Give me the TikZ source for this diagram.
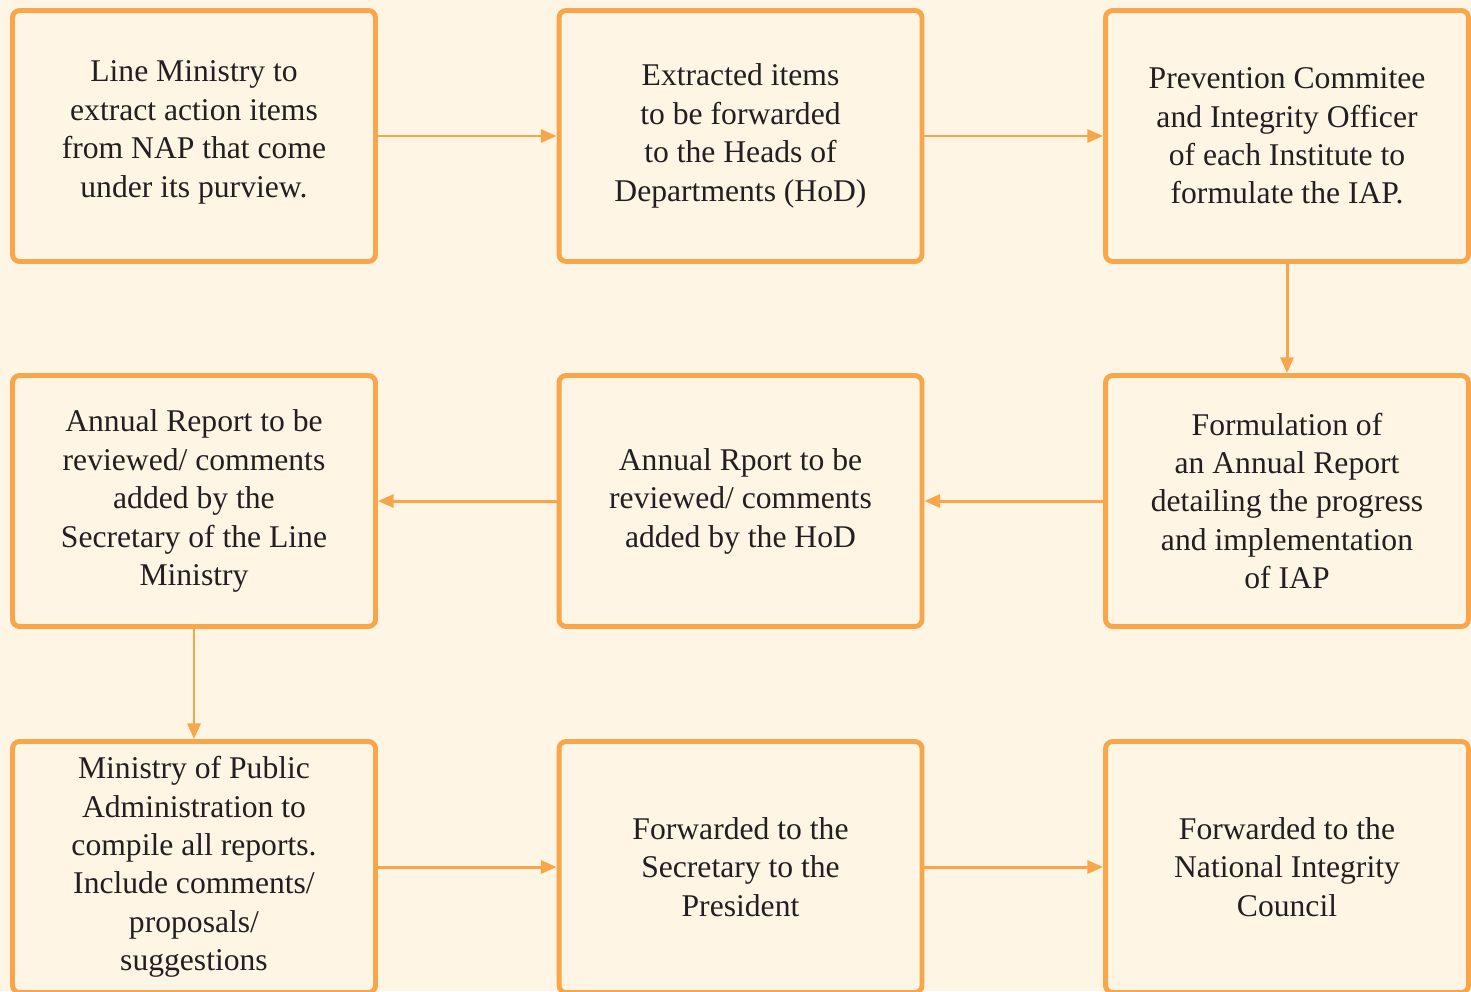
\documentclass[tikz,border=0pt]{standalone}
\usepackage{fontspec}
\setmainfont{Liberation Serif}
\usetikzlibrary{arrows.meta}

\definecolor{paper}{HTML}{FEF5E4}
\definecolor{flow}{HTML}{F9A64A}
\definecolor{ink}{HTML}{231F20}

\begin{document}
\begin{tikzpicture}[x=0.02cm, y=-0.02cm,
    stage/.style={draw=flow, line width=2.8pt, rounded corners=4pt, fill=paper,
        minimum width=7.26cm, minimum height=5.02cm, inner sep=0pt,
        align=center, text=ink, font=\fontsize{18}{21.9}\selectfont},
    link/.style={draw=flow, line width=1.7pt, -{Triangle[length=9pt,width=7.5pt]}}]

    \fill[paper] (0,0) rectangle (1471,991);
    \useasboundingbox (0,0) rectangle (1471,991);
    \clip (0,0) rectangle (1471,991);

    \coordinate (A) at (194,136);
    \coordinate (B) at (740.5,136);
    \coordinate (C) at (1287,136);
    \coordinate (D) at (194,501);
    \coordinate (E) at (740.5,501);
    \coordinate (F) at (1287,501);
    \coordinate (G) at (194,867);
    \coordinate (H) at (740.5,867);
    \coordinate (I) at (1287,867);

    \node[stage] (extract) at (A) {Line Ministry to\\extract action items\\from NAP that come\\under its purview.\\[-0.49cm]};
    \node[stage] (forward) at (B) {Extracted items\\to be forwarded\\to the Heads of\\Departments (HoD)};
    \node[stage] (formulate) at (C) {Prevention Commitee\\and Integrity Officer\\of  each Institute to\\formulate the IAP.};
    \node[stage] (secretary) at (D) {Annual Report to be\\reviewed/ comments\\added by the\\Secretary of  the Line\\Ministry};
    \node[stage] (hod) at (E) {Annual Rport to be\\reviewed/ comments\\added by the HoD};
    \node[stage] (annual) at (F) {Formulation of\\an Annual Report\\detailing the progress\\and implementation\\of  IAP};
    \node[stage] (compile) at (G) {Ministry of  Public\\Administration to\\compile all reports.\\Include comments/\\proposals/\\suggestions};
    \node[stage] (president) at (H) {Forwarded to the\\Secretary to the\\President};
    \node[stage] (council) at (I) {Forwarded to the\\National  Integrity\\Council};

    \draw[link] (extract) -- (forward);
    \draw[link] (forward) -- (formulate);
    \draw[link] (formulate) -- (annual);
    \draw[link] (annual) -- (hod);
    \draw[link] (hod) -- (secretary);
    \draw[link] (secretary) -- (compile);
    \draw[link] (compile) -- (president);
    \draw[link] (president) -- (council);
\end{tikzpicture}
\end{document}
